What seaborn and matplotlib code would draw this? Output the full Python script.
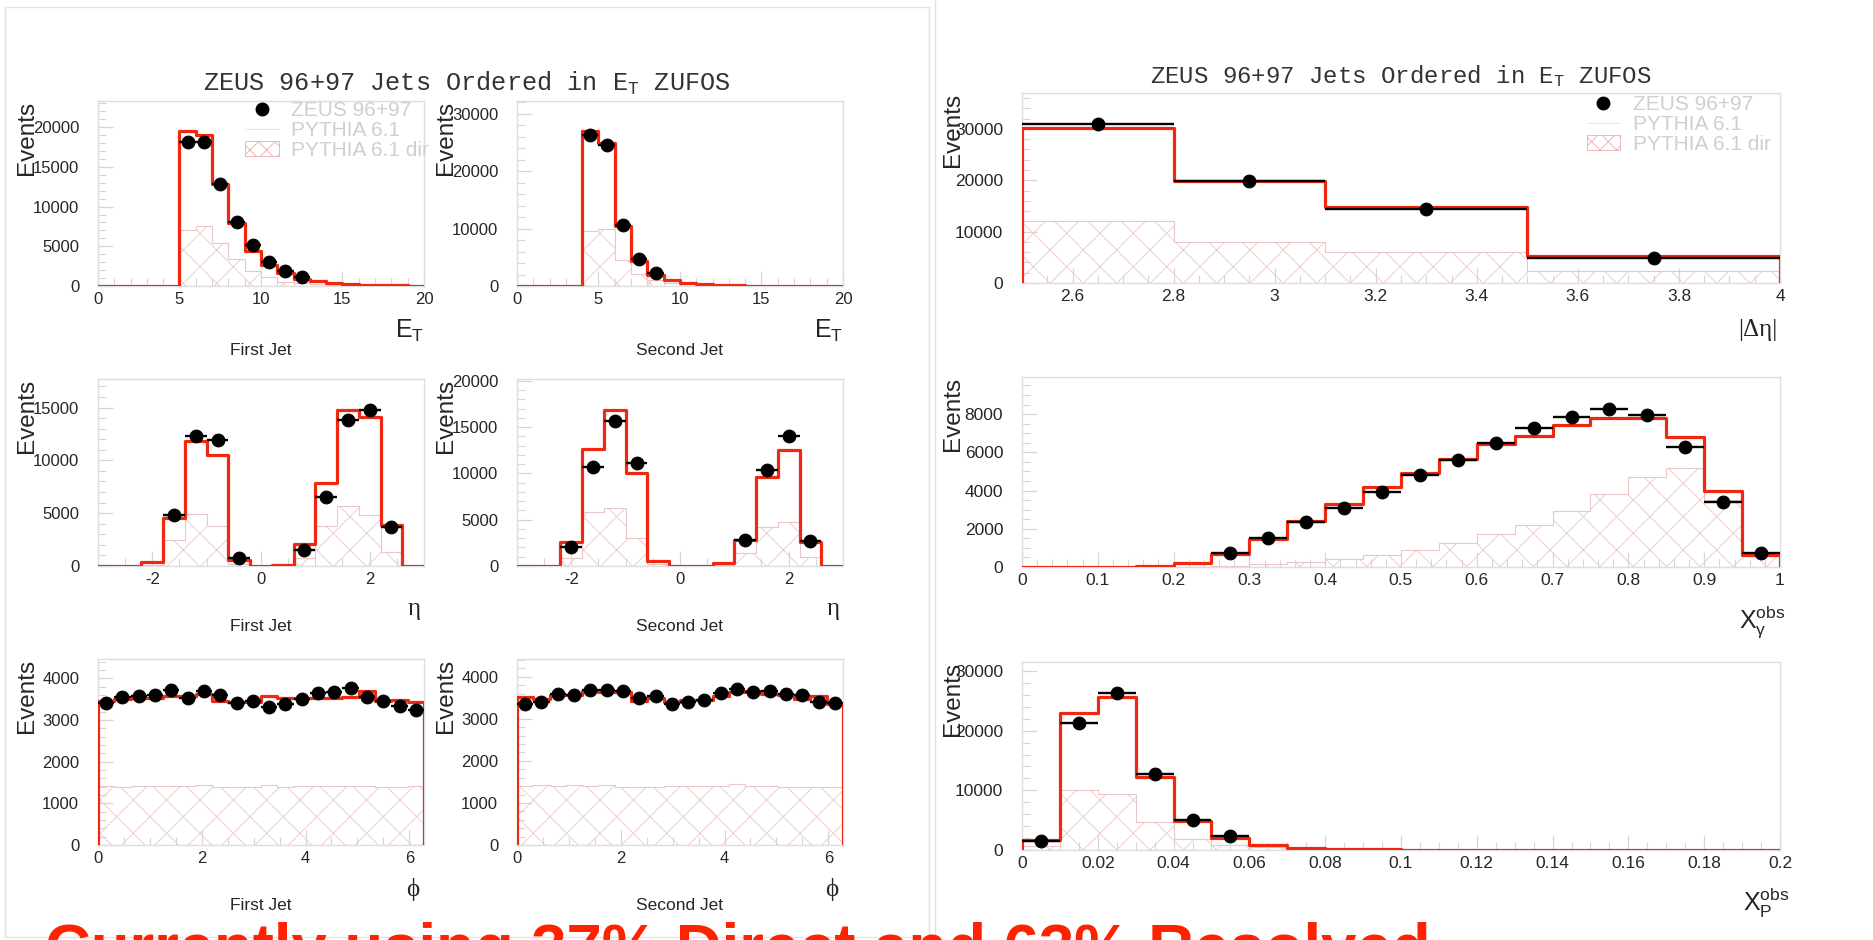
import numpy as np
import matplotlib
matplotlib.use("Agg")
import matplotlib.pyplot as plt
import seaborn as sns
from matplotlib.ticker import MultipleLocator, AutoMinorLocator, FuncFormatter
from matplotlib.lines import Line2D
from matplotlib.patches import Patch, Rectangle

nan = np.nan

# ---------------- data ----------------
# First jet E_T
et_edges = list(range(0, 21))
et1_mc = [0, 0, 0, 0, 0, 19580, 19080, 12860, 7900, 4450, 2650, 1600, 840, 630, 420, 250, 170, 130, 80, 40]
et1_dir = [0, 0, 0, 0, 0, 7060, 7600, 5380, 3360, 1930, 1090, 550, 340, 200, 120, 80, 50, 30, 20, 10]
et1_data = [nan, nan, nan, nan, nan, 18190, 18190, 12860, 8110, 5170, 3070, 1890, 1090, nan, nan, nan, nan, nan, nan, nan]
# Second jet E_T
et2_mc = [0, 0, 0, 0, 26980, 24900, 10480, 4340, 1910, 985, 460, 290, 170, 120, 60, 40, 25, 15, 10, 5]
et2_dir = [0, 0, 0, 0, 9550, 9840, 4520, 2140, 1040, 580, 300, 170, 100, 60, 30, 20, 10, 5, 5, 0]
et2_data = [nan, nan, nan, nan, 26230, 24490, 10600, 4690, 2200, nan, nan, nan, nan, nan, nan, nan, nan, nan, nan, nan]
# |Delta eta|
deta_edges = [2.5, 2.8, 3.1, 3.5, 4.0]
deta_mc = [30130, 19960, 14870, 5220]
deta_dir = [12000, 8020, 5940, 2280]
deta_data = [30920, 19900, 14480, 4960]
# eta
eta_edges = [-3.0, -2.6, -2.2, -1.8, -1.4, -1.0, -0.6, -0.2, 0.2, 0.6, 1.0, 1.4, 1.8, 2.2, 2.6, 3.0]
eta1_mc = [0, 0, 380, 4560, 11840, 10540, 540, 0, 90, 2060, 7820, 14720, 14150, 3890, 0]
eta1_dir = [0, 0, 100, 2440, 4940, 3770, 150, 0, 30, 800, 3770, 5660, 4810, 1330, 0]
eta1_data = [nan, nan, nan, 4870, 12310, 11930, 790, nan, nan, 1490, 6490, 13830, 14780, 3700, nan]
eta2_mc = [0, 30, 2600, 12620, 16890, 10020, 540, 10, 20, 360, 2780, 9660, 12480, 2640, 0]
eta2_dir = [0, 10, 900, 5820, 6260, 3070, 200, 0, 10, 150, 1450, 4160, 4700, 980, 0]
eta2_data = [nan, nan, 2060, 10740, 15620, 11170, nan, nan, nan, nan, 2860, 10380, 14000, 2710, nan]
# x_gamma^obs
xg_edges = [0.0, 0.05, 0.1, 0.15, 0.2, 0.25, 0.3, 0.35, 0.4, 0.45, 0.5, 0.55, 0.6, 0.65, 0.7, 0.75, 0.8, 0.85, 0.9, 0.95, 1.0]
xg_mc = [15, 15, 20, 60, 200, 700, 1490, 2420, 3290, 4200, 4900, 5670, 6410, 6830, 7430, 7780, 7780, 6810, 3960, 610]
xg_dir = [0, 0, 0, 5, 20, 50, 140, 260, 400, 650, 910, 1280, 1720, 2220, 2920, 3800, 4690, 5170, 3500, 600]
xg_data = [nan, nan, nan, nan, nan, 740, 1540, 2330, 3080, 3920, 4800, 5600, 6480, 7270, 7850, 8280, 7970, 6300, 3410, 750]
# phi
phi_edges = list(np.linspace(0, 2 * np.pi, 21))
phi1_mc = [3460, 3510, 3520, 3530, 3570, 3580, 3620, 3450, 3440, 3430, 3570, 3530, 3520, 3520, 3530, 3560, 3700, 3460, 3480, 3440]
phi1_dir = [1410, 1390, 1420, 1410, 1420, 1420, 1430, 1400, 1390, 1390, 1450, 1400, 1410, 1420, 1410, 1420, 1410, 1400, 1400, 1410]
phi1_data = [3400, 3545, 3585, 3600, 3720, 3520, 3695, 3600, 3415, 3465, 3320, 3380, 3495, 3655, 3665, 3760, 3560, 3465, 3335, 3240]
phi2_mc = [3520, 3460, 3560, 3560, 3660, 3640, 3640, 3420, 3500, 3400, 3450, 3450, 3540, 3640, 3650, 3580, 3560, 3470, 3530, 3350]
phi2_dir = [1410, 1420, 1400, 1420, 1410, 1420, 1380, 1390, 1390, 1400, 1400, 1410, 1400, 1440, 1410, 1400, 1390, 1380, 1390, 1380]
phi2_data = [3350, 3400, 3600, 3560, 3680, 3680, 3660, 3500, 3540, 3340, 3400, 3445, 3620, 3700, 3640, 3660, 3580, 3560, 3400, 3365]
# x_p^obs
xp_edges = [0.0, 0.01, 0.02, 0.03, 0.04, 0.05, 0.06, 0.07, 0.08, 0.09, 0.1, 0.11, 0.12, 0.13, 0.14, 0.15, 0.16, 0.17, 0.18, 0.19, 0.2]
xp_mc = [1730, 22930, 25600, 12300, 4790, 2000, 890, 330, 170, 100, 60, 40, 30, 20, 15, 10, 10, 5, 5, 5]
xp_dir = [700, 10020, 9460, 4620, 1840, 890, 450, 200, 100, 50, 30, 20, 10, 10, 5, 5, 0, 0, 0, 0]
xp_data = [1450, 21200, 26380, 12740, 5060, 2280, nan, nan, nan, nan, nan, nan, nan, nan, nan, nan, nan, nan, nan, nan]

title_text = "ZEUS 96+97 Jets Ordered in $\\mathregular{E_T}$ ZUFOS"
legend_labels = ["ZEUS 96+97", "PYTHIA 6.1", "PYTHIA 6.1 dir"]
footer_text = "Currently using 37% Direct and 63% Resolved"

# ---------------- style ----------------
sns.set_style("white")
plt.rcParams["font.family"] = ["Liberation Sans", "DejaVu Sans"]
plt.rcParams["axes.unicode_minus"] = False
HATCH = "#f2a9a9"
plt.rcParams["hatch.color"] = HATCH
plt.rcParams["hatch.linewidth"] = 0.6
RED = "#f0280f"
TICKC = "#d6d6d6"
SANS = ["Liberation Sans", "DejaVu Sans"]
SERIF = ["Liberation Serif", "DejaVu Serif"]
MONO = ["Liberation Mono", "DejaVu Sans Mono"]

W, H = 1874, 940
fig = plt.figure(figsize=(W / 100, H / 100), dpi=100)

def pos(l, t, r, b):
    return [l / W, 1 - b / H, (r - l) / W, (b - t) / H]

panels = [
    # edges, mc, dir, data, rect, ylim, xmaj, ymaj, col
    (et_edges, et1_mc, et1_dir, et1_data, pos(98, 101, 424, 286), 23300, 5, 5000, "L"),
    (et_edges, et2_mc, et2_dir, et2_data, pos(517, 101, 843, 286), 32200, 5, 10000, "L"),
    (deta_edges, deta_mc, deta_dir, deta_data, pos(1022, 93, 1780, 283), 37000, 0.2, 10000, "R"),
    (eta_edges, eta1_mc, eta1_dir, eta1_data, pos(98, 379, 424, 566), 17700, 2, 5000, "L"),
    (eta_edges, eta2_mc, eta2_dir, eta2_data, pos(517, 379, 843, 566), 20200, 2, 5000, "L"),
    (xg_edges, xg_mc, xg_dir, xg_data, pos(1022, 377, 1780, 567), 9940, 0.1, 2000, "R"),
    (phi_edges, phi1_mc, phi1_dir, phi1_data, pos(98, 659, 424, 845), 4465, 2, 1000, "L"),
    (phi_edges, phi2_mc, phi2_dir, phi2_data, pos(517, 659, 843, 845), 4420, 2, 1000, "L"),
    (xp_edges, xp_mc, xp_dir, xp_data, pos(1022, 662, 1780, 850), 31500, 0.02, 10000, "R"),
]

fmt = FuncFormatter(lambda v, p: f"{v:g}")
axes = []
for edges, mc, dr, data, rect, ymax, xmaj, ymaj, col in panels:
    ax = fig.add_axes(rect)
    axes.append(ax)
    bins = [float(e) for e in edges]
    e = np.asarray(bins)
    centers = 0.5 * (e[:-1] + e[1:])
    half = 0.5 * np.diff(e)
    mc = np.asarray(mc, dtype=float)
    dr = np.asarray(dr, dtype=float)
    data = np.asarray(data, dtype=float)
    big = col == "L"
    # direct (hatched)
    sns.histplot(x=centers, weights=dr, bins=bins, element="step", fill=True,
                 color="#ecc6c6", facecolor="none", edgecolor="#ecc6c6", hatch="x",
                 linewidth=0.8, ax=ax, zorder=1)
    # total MC
    sns.histplot(x=centers, weights=mc, bins=bins, element="step", fill=False,
                 color=RED, linewidth=2.3, ax=ax, zorder=3)
    ax.vlines([e[0], e[-1]], 0, [mc[0], mc[-1]], color=RED, lw=2.3, zorder=3)
    # data
    m = ~np.isnan(data)
    ax.errorbar(centers[m], data[m], xerr=half[m], fmt="none", ecolor="k",
                elinewidth=1.7, capsize=0, zorder=4)
    sns.scatterplot(x=centers[m], y=data[m], color="k", edgecolor="k",
                    s=85, ax=ax, zorder=5, legend=False)
    ax.set_xlim(e[0], e[-1])
    ax.set_ylim(0, ymax)
    ax.xaxis.set_major_locator(MultipleLocator(xmaj))
    ax.yaxis.set_major_locator(MultipleLocator(ymaj))
    ax.xaxis.set_minor_locator(AutoMinorLocator())
    ax.yaxis.set_minor_locator(AutoMinorLocator())
    ax.xaxis.set_major_formatter(fmt)
    ax.yaxis.set_major_formatter(fmt)
    ax.tick_params(which="both", direction="in", color=TICKC, bottom=True, left=True,
                   top=False, right=False)
    ax.tick_params(which="major", length=11, width=0.9)
    ax.tick_params(which="minor", length=6, width=0.8)
    ax.tick_params(axis="y", pad=13.5)
    ax.tick_params(axis="x", pad=4.5)
    for lab in ax.get_xticklabels() + ax.get_yticklabels():
        lab.set_family(SANS)
        lab.set_fontsize(12 if big else 12.5)
    for s in ax.spines.values():
        s.set_color("#dedede")
        s.set_linewidth(1)
    ax.set_xlabel("")
    ax.set_ylabel("Events", loc="top", fontsize=17.5)
    ax.yaxis.set_label_coords(-0.183 if big else -0.0765, 1.0)

# x-axis variable labels and jet labels
var_labels = [
    (0, "$\\mathregular{E_T}$", SANS, 1.0, -0.17),
    (1, "$\\mathregular{E_T}$", SANS, 1.0, -0.17),
    (2, "|Δη|", SERIF, 0.997, -0.19),
    (3, "η", SERIF, 0.99, -0.17),
    (4, "η", SERIF, 0.99, -0.17),
    (5, "$\\mathregular{X_{\\gamma}^{obs}}$", SANS, 1.007, -0.19),
    (6, "ϕ", SERIF, 0.985, -0.18),
    (7, "ϕ", SERIF, 0.985, -0.18),
    (8, "$\\mathregular{X_{P}^{obs}}$", SANS, 1.013, -0.19),
]
for i, txt, fam, x, y in var_labels:
    axes[i].text(x, y, txt, transform=axes[i].transAxes, ha="right", va="top",
                 fontsize=18, family=fam)

jet_labels = [(0, "First Jet", -0.31), (1, "Second Jet", -0.31), (3, "First Jet", -0.285),
              (4, "Second Jet", -0.285), (6, "First Jet", -0.285), (7, "Second Jet", -0.285)]
for i, txt, y in jet_labels:
    axes[i].text(0.5, y, txt, transform=axes[i].transAxes, ha="center", va="top",
                 fontsize=12.5)

# legends
def legend_handles():
    return [Line2D([], [], marker="o", color="k", ls="none", ms=9),
            Line2D([], [], color="#e4e4e4", lw=0.8),
            Patch(facecolor="none", edgecolor=HATCH, hatch="xx", lw=0.6)]

for idx, anchor in [(0, (0.452, 1.0)), (2, (0.745, 0.988))]:
    axes[idx].legend(legend_handles(), legend_labels, loc="upper left", bbox_to_anchor=anchor,
                     frameon=False, fontsize=15, labelcolor="#cfcfcf", handlelength=1.6,
                     handletextpad=0.6, borderpad=0, borderaxespad=0, labelspacing=0.04)

# titles
fig.text(467 / W, 1 - 91 / H, title_text, ha="center", va="baseline", fontsize=18.2,
         family=MONO, color="#333333")
fig.text(1401 / W, 1 - 83 / H, title_text, ha="center", va="baseline", fontsize=17.3,
         family=MONO, color="#333333")

# page frames
fig.add_artist(Rectangle((5 / W, 1 - 937 / H), 924 / W, 930 / H, transform=fig.transFigure,
                         fill=False, ec="#e2e2e2", lw=1))
fig.add_artist(Line2D([935 / W, 935 / W], [0, 1], transform=fig.transFigure, color="#e2e2e2", lw=1))

# footer
fig.text(45 / W, 1 - 968 / H, footer_text, ha="left", va="baseline", fontsize=45.7,
         fontweight="bold", color="#ff2200")

fig.savefig("out.png", dpi=100)
